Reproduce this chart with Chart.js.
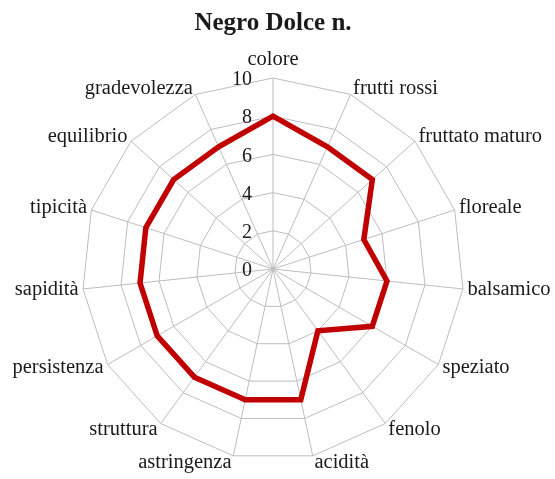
<!DOCTYPE html>
<html>
<head>
<meta charset="utf-8">
<script src="https://cdn.jsdelivr.net/npm/chart.js@4/dist/chart.umd.min.js"></script>
<style>
  html, body { margin: 0; padding: 0; background: #fff; }
  #wrap { width: 555px; height: 479px; }
</style>
</head>
<body>
<div id="wrap"><canvas id="radar" width="555" height="479"></canvas></div>
<script>
const categories = ["colore", "frutti rossi", "fruttato maturo", "floreale", "balsamico",
  "speziato", "fenolo", "acidità", "astringenza", "struttura", "persistenza",
  "sapidità", "tipicità", "equilibrio", "gradevolezza"];
const scores = [8, 7, 7, 5, 6, 6, 4, 7, 7, 7, 7, 7, 7, 7, 7];
const tickValues = [0, 2, 4, 6, 8, 10];
const chartTitle = "Negro Dolce n.";

const SERIF = "'Liberation Serif', 'Times New Roman', serif";

// draws title, tick numbers and category labels with the scale's own geometry
const labelsPlugin = {
  id: 'labelsPlugin',
  afterDraw(chart) {
    const ctx = chart.ctx;
    const scale = chart.scales.r;
    ctx.save();
    ctx.fillStyle = '#1a1a1a';

    ctx.font = 'bold 25px ' + SERIF;
    ctx.textAlign = 'center';
    ctx.textBaseline = 'middle';
    ctx.fillText(chartTitle, scale.xCenter, 24);

    ctx.font = '20px ' + SERIF;
    ctx.textAlign = 'right';
    tickValues.forEach(v => {
      const d = scale.getDistanceFromCenterForValue(v);
      ctx.fillText(String(v), scale.xCenter - 21, scale.yCenter - d + 2);
    });

    ctx.font = '20.5px ' + SERIF;
    categories.forEach((name, i) => {
      const p = scale.getPointPositionForValue(i, 10);
      const dx = Math.cos(p.angle), dy = Math.sin(p.angle);
      let x = p.x, y = p.y;
      if (Math.abs(dx) < 0.01) {
        ctx.textAlign = 'center';
        y += dy * 18;
      } else {
        ctx.textAlign = dx > 0 ? 'left' : 'right';
        x += Math.sign(dx) * (1 + 3.5 * Math.abs(dx));
        y += dy * 7;
      }
      ctx.fillText(name, x, y);
    });
    ctx.restore();
  }
};

new Chart(document.getElementById('radar'), {
  type: 'radar',
  data: {
    labels: categories,
    datasets: [{
      data: scores,
      borderColor: '#c00000',
      borderWidth: 5.5,
      borderJoinStyle: 'miter',
      fill: false,
      pointRadius: 0,
      pointHoverRadius: 0,
      tension: 0
    }]
  },
  options: {
    responsive: false,
    animation: false,
    layout: { padding: { left: 82, right: 91, top: 78, bottom: 19 } },
    plugins: {
      legend: { display: false },
      title: { display: false },
      tooltip: { enabled: false }
    },
    scales: {
      r: {
        min: 0,
        max: 10,
        ticks: { display: false, stepSize: 2 },
        pointLabels: { display: false },
        grid: { color: '#bdbdbd', lineWidth: 1 },
        angleLines: { color: '#bdbdbd', lineWidth: 1 }
      }
    }
  },
  plugins: [labelsPlugin]
});
</script>
</body>
</html>
